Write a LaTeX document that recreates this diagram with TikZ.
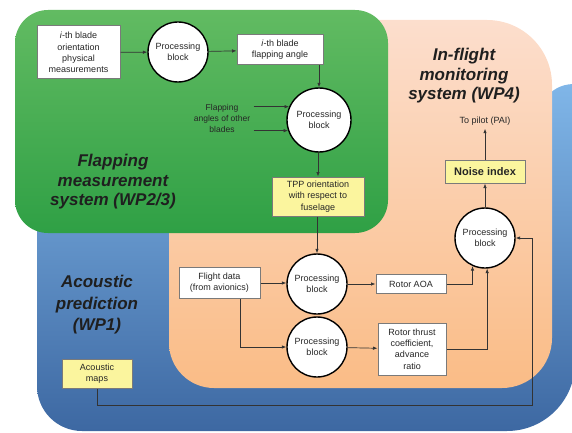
\documentclass[tikz,border=0pt]{standalone}
\usepackage{fontspec}
\setmainfont{Liberation Sans}
\usetikzlibrary{arrows.meta,calc}
\definecolor{greenTop}{HTML}{62BB62}
\definecolor{greenBot}{HTML}{2FA045}
\definecolor{orTop}{HTML}{FCDECD}
\definecolor{orBot}{HTML}{FABC86}
\definecolor{blTop}{HTML}{80B6E8}
\definecolor{blBot}{HTML}{3D68A2}
\definecolor{yfill}{HTML}{FBF59E}
\definecolor{boxgray}{HTML}{7A7A7A}
\definecolor{linegray}{HTML}{333333}
\begin{document}
\begin{tikzpicture}[x=1pt,y=-1pt,
  lbl/.style={font=\fontsize{9}{11.3}\selectfont, align=center, text=black!85},
  wbox/.style={lbl, draw=boxgray, line width=1pt, fill=white, inner sep=2pt},
  ybox/.style={wbox, fill=yfill},
  proc/.style={lbl, circle, draw=black, line width=1.4pt, fill=white, minimum size=60pt, inner sep=0pt},
  arr/.style={draw=linegray, line width=0.7pt, -{Latex[length=4.5pt,width=3.5pt]}},
  title/.style={font=\fontsize{17}{19.5}\selectfont\bfseries\itshape, align=center, text=black!88}]
\useasboundingbox (0,0) rectangle (572,433);
% blue region
\shade[top color=blTop, bottom color=blBot]
  (530,120) [rounded corners=45] -- (37,120) -- (37,431) [rounded corners=68] -- (575,431) [sharp corners] -- (575,84)
  .. controls (555,84) and (545,95) .. (530,120) -- cycle;
% orange region
\shade[top color=orTop, bottom color=orBot]
  (169,100) [rounded corners=45] -- (169,388) [rounded corners=50] -- (552,388) [rounded corners=65] -- (552,20) -- (169,20) [sharp corners] -- cycle;
% green region
\shade[top color=greenTop, bottom color=greenBot, rounded corners=33] (15,10) rectangle (388,233);

% titles
\node[title] (tgreen) at (113,182) {Flapping\\measurement\\system (WP2/3)};
\node[title] (torange) at (464,76) {In-flight\\monitoring\\system (WP4)};
\node[title, font=\fontsize{17}{21.5}\selectfont\bfseries\itshape] (tblue) at (97,305) {Acoustic\\prediction\\(WP1)};

% nodes
\node[wbox, minimum width=83pt, minimum height=53pt] (b1) at (78.5,52.5) {\textit{i}-th blade\\orientation\\physical\\measurements};
\node[proc] (c1) at (178,52) {Processing\\block};
\node[wbox, minimum width=86pt, minimum height=30pt] (b2) at (280,50) {\textit{i}-th blade\\flapping angle};
\node[proc, minimum size=64pt] (c2) at (319,120) {Processing\\block};
\node[lbl, font=\fontsize{8.5}{11}\selectfont] (flap) at (222,118) {Flapping\\angles of other\\blades};
\node[ybox, minimum width=92pt, minimum height=39pt] (tpp) at (318,196.5) {TPP orientation\\with respect to\\fuselage};
\node[proc] (c4) at (317,284) {Processing\\block};
\node[proc] (c5) at (317,347) {Processing\\block};
\node[wbox, minimum width=81pt, minimum height=31pt] (fd) at (219.5,283) {Flight data\\(from avionics)};
\node[wbox, minimum width=70pt, minimum height=19pt] (aoa) at (411,284) {Rotor AOA};
\node[wbox, minimum width=68pt, minimum height=52pt] (thr) at (412,349) {Rotor thrust\\coefficient,\\advance\\ratio};
\node[proc] (c3) at (485,238) {Processing\\block};
\node[ybox, font=\fontsize{11}{13}\selectfont\bfseries, minimum width=80pt, minimum height=23pt] (noise) at (485,171.5) {Noise index};
\node[lbl] (pilot) at (485,121) {To pilot (PAI)};
\node[ybox, minimum width=70pt, minimum height=29pt] (maps) at (97,373.5) {Acoustic\\maps};

% connectors
\draw[arr] (b1) -- (c1);
\draw[arr] (c1) -- (b2);
\draw[arr] (b2.south -| c2.north) -- (c2.north);
\draw[arr] (flap.east |- c2.156) -- (c2.156);
\draw[arr] (flap.east |- c2.199) -- (c2.199);
\draw[arr] (c2.south -| tpp.north) -- (tpp.north);
\draw[arr] (tpp.south -| c4.north) -- (c4.north);
\draw[arr] (fd.east) -- (fd.east -| c4.west);
\draw[arr] ($(fd.south)+(21,0)$) |- (c5.west);
\draw[arr] (c4) -- (aoa);
\draw[arr] (c5) -- (thr);
\draw[arr] (aoa.east) -| (c3.-114);
\draw[arr] (thr.east) -| (c3.-86);
\draw[arr] (maps.south) |- ($(c3.east)+(17,167)$) |- (c3.east);
\draw[arr] (c3.north) -- (c3.north |- noise.south);
\draw[arr] (c3.north |- noise.north) -- (c3.north |- pilot.south);
\end{tikzpicture}
\end{document}
